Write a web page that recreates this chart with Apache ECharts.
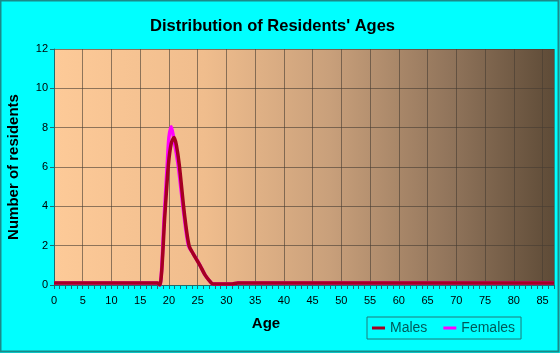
<!DOCTYPE html>
<html lang="en" style="height: 100%">
<head>
  <meta charset="utf-8">
</head>
<body style="height: 100%; margin: 0; background: #00ffff">
  <div id="container" style="width: 560px; height: 353px"></div>

  <script type="text/javascript" src="https://cdn.jsdelivr.net/npm/echarts@6/dist/echarts.min.js"></script>

  <script type="text/javascript">
    var dom = document.getElementById('container');
    var myChart = echarts.init(dom, null, { renderer: 'canvas' });

    // values (age -> number of residents)
    const maleAges = [0, 18, 18.4, 19.3, 19.9, 20.4, 20.9, 21.3, 21.8, 22.7, 23.5, 24.2, 25.4, 26.3, 27.1, 27.7, 31, 32, 87];
    const maleCounts = [0.1, 0.1, 0.0, 3.6, 6.1, 7.2, 7.5, 7.1, 6.1, 3.6, 2.0, 1.6, 1.0, 0.5, 0.2, 0.05, 0.05, 0.1, 0.1];
    const femaleAges = [0, 18, 18.4, 19.2, 19.7, 20.0, 20.4, 20.8, 21.6, 22.6, 23.4, 24.2, 25.4, 26.3, 27.1, 27.7, 31, 32, 87];
    const femaleCounts = [0.1, 0.1, 0.0, 3.6, 6.1, 7.5, 8.05, 7.5, 6.1, 3.6, 2.0, 1.6, 1.0, 0.5, 0.2, 0.05, 0.05, 0.1, 0.1];

    function pairs(xs, ys) {
      return xs.map(function (x, i) {
        return [x, ys[i]];
      });
    }

    var option = {
      backgroundColor: '#00ffff',
      animation: false,
      title: {
        text: "Distribution of Residents' Ages",
        left: 145,
        top: 13,
        textStyle: {
          fontFamily: 'Liberation Sans',
          fontSize: 16.5,
          fontWeight: 'bold',
          color: '#000'
        }
      },
      legend: {
        left: 367,
        top: 317,
        data: ['Males', 'Females'],
        icon: 'rect',
        itemWidth: 13,
        itemHeight: 3,
        itemGap: 16,
        padding: [4, 6, 4, 5],
        borderColor: '#1e7b7b',
        borderWidth: 1,
        textStyle: {
          fontFamily: 'Liberation Sans',
          fontSize: 14,
          color: '#005a5a'
        }
      },
      grid: {
        left: 54,
        right: 6,
        top: 49,
        bottom: 68,
        show: true,
        borderWidth: 0,
        backgroundColor: {
          type: 'linear',
          x: 0, y: 0, x2: 1, y2: 0,
          colorStops: [
            { offset: 0, color: '#fdca98' },
            { offset: 0.3, color: '#f0bd8d' },
            { offset: 0.55, color: '#c9a07b' },
            { offset: 0.8, color: '#8f735a' },
            { offset: 1, color: '#5e4b37' }
          ]
        }
      },
      xAxis: {
        type: 'value',
        min: 0,
        max: 87,
        interval: 5,
        axisLine: { show: true, onZero: false, lineStyle: { color: '#1e6e6e', width: 1 } },
        axisTick: { show: true, length: 4, lineStyle: { color: '#1e6e6e' } },
        minorTick: { show: true, splitNumber: 5, length: 4, lineStyle: { color: '#1e6e6e' } },
        axisLabel: {
          showMaxLabel: false,
          margin: 10,
          fontFamily: 'Liberation Sans',
          fontSize: 11,
          color: '#000'
        },
        splitLine: { show: true, lineStyle: { color: 'rgba(70,60,50,0.6)', width: 1 } }
      },
      yAxis: {
        type: 'value',
        min: 0,
        max: 12,
        interval: 2,
        axisLine: { show: true, lineStyle: { color: '#1e6e6e', width: 1 } },
        axisTick: { show: true, length: 4, lineStyle: { color: '#1e6e6e' } },
        axisLabel: {
          margin: 6,
          fontFamily: 'Liberation Sans',
          fontSize: 11,
          color: '#000'
        },
        splitLine: { show: true, lineStyle: { color: 'rgba(70,60,50,0.6)', width: 1 } }
      },
      graphic: [
        {
          type: 'text',
          x: 14,
          y: 167,
          rotation: Math.PI / 2,
          style: {
            text: 'Number of residents',
            x: 0,
            y: 0,
            align: 'center',
            verticalAlign: 'middle',
            font: 'bold 15px "Liberation Sans"',
            fill: '#000'
          }
        },
        {
          type: 'text',
          x: 266,
          y: 324,
          style: {
            text: 'Age',
            x: 0,
            y: 0,
            align: 'center',
            verticalAlign: 'middle',
            font: 'bold 15px "Liberation Sans"',
            fill: '#000'
          }
        },
        {
          type: 'rect',
          shape: { x: 0.5, y: 0.5, width: 558, height: 351 },
          style: { fill: null, stroke: '#1a8a8a', lineWidth: 2 },
          silent: true
        }
      ],
      series: [
        {
          name: 'Females',
          type: 'line',
          smooth: 0.3,
          showSymbol: false,
          lineStyle: { color: '#ff00ff', width: 3.5 },
          itemStyle: { color: '#ff00ff' },
          data: pairs(femaleAges, femaleCounts)
        },
        {
          name: 'Males',
          type: 'line',
          smooth: 0.3,
          showSymbol: false,
          lineStyle: { color: '#a50021', width: 3.5 },
          itemStyle: { color: '#a50021' },
          data: pairs(maleAges, maleCounts)
        }
      ]
    };

    myChart.setOption(option);
    window.addEventListener('resize', myChart.resize);
  </script>
</body>
</html>
